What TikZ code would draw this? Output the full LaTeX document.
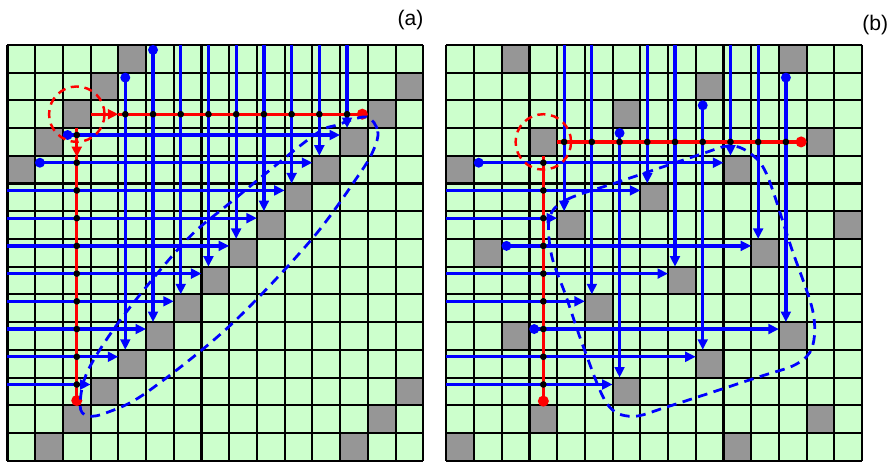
\documentclass[tikz,border=0pt]{standalone}
\usepackage{fontspec}
\setmainfont{Liberation Sans}
\usepackage{tikz}
\usetikzlibrary{arrows.meta}
\definecolor{cellgreen}{RGB}{204,255,204}
\definecolor{cellgrey}{RGB}{150,150,150}

\begin{document}
\begin{tikzpicture}[x=0.6cm, y=0.6cm,
    gridline/.style={line width=1.3pt, black},
    blueline/.style={line width=2pt, blue},
    redline/.style={line width=2pt, red},
    flow/.style={-{Triangle[length=6.5pt,width=6pt]}},
    bluedash/.style={blue, line width=1.7pt, dash pattern=on 6pt off 4pt},
    reddash/.style={red, line width=1.5pt, dash pattern=on 5pt off 3.5pt},
    panel/.style={font=\fontsize{13}{15}\selectfont}]
    \useasboundingbox (-0.27,1.62) rectangle (31.98,-15.06);

    % Panel (a): board
    \fill[cellgreen] (0,0) rectangle (15,-15);
    \foreach \c/\r in {4/0,3/1,2/2,1/3,0/4,14/1,13/2,12/3,11/4,10/5,9/6,8/7,7/8,6/9,5/10,4/11,3/12,2/13,1/14,14/12,13/13,12/14}
        \fill[cellgrey] (\c,-\r) rectangle ++(1,-1);
    \foreach \i in {0,...,15} {
        \draw[gridline] (\i,0) -- (\i,-15);
        \draw[gridline] (0,-\i) -- (15,-\i);
    }

    % Panel (a): blue signals
    \foreach \c/\ya/\yb in {4/-1.18/-11,5/-0.18/-10,6/0/-9,7/0/-8,8/0/-7,9/0/-6,10/0/-5,11/0/-4,12/0/-3}
        \draw[blueline, flow] (\c+0.25,\ya) -- (\c+0.25,\yb);
    \foreach \r/\xa/\xb in {3/2.17/12,4/1.17/11,5/0/10,6/0/9,7/0/8,8/0/7,9/0/6,10/0/5,11/0/4,12/0/3}
        \draw[blueline, flow] (\xa,-\r-0.25) -- (\xb,-\r-0.25);
    \fill[blue] (4.25,-1.18) circle (0.18) (5.25,-0.18) circle (0.18)
        (2.17,-3.25) circle (0.18) (1.17,-4.25) circle (0.18);

    % Panel (a): red bus
    \draw[redline, flow] (3,-2.5) -- (4,-2.5);
    \draw[redline] (4,-2.5) -- (12.8,-2.5);
    \draw[redline, flow] (2.5,-3) -- (2.5,-4.05);
    \draw[redline] (2.5,-4) -- (2.5,-12.83);
    \foreach \c in {4,...,12}
        \fill[black] (\c+0.25,-2.5) circle (0.12);
    \foreach \r in {3,...,12}
        \fill[black] (2.5,-\r-0.25) circle (0.12);
    \fill[red] (12.8,-2.5) circle (0.2) (2.5,-12.83) circle (0.2);
    \draw[reddash] (2.5,-2.5) circle (1);

    % Panel (a): region
    \draw[bluedash] plot[smooth cycle, tension=0.55] coordinates {
        (12.95,-2.6) (13.36,-3.12) (13.2,-3.8) (12.7,-4.65) (10.96,-7.03)
        (8.0,-10.15) (5.0,-12.55) (3.57,-13.27) (2.88,-13.38) (2.62,-13.0)
        (2.9,-11.75) (4.17,-9.79) (6.4,-7.1) (8.0,-5.72) (11.0,-3.3) (11.92,-2.88)};

    \node[panel] (labela) at (14.54,0.9) {(a)};

    \begin{scope}[shift={(15.83,0)}]
    % Panel (b): board
    \fill[cellgreen] (0,0) rectangle (15,-15);
    \foreach \c/\r in {2/0,12/0,9/1,6/2,3/3,13/3,0/4,10/4,7/5,4/6,14/6,1/7,11/7,8/8,5/9,2/10,12/10,9/11,6/12,3/13,13/13,0/14,10/14}
        \fill[cellgrey] (\c,-\r) rectangle ++(1,-1);
    \foreach \i in {0,...,15} {
        \draw[gridline] (\i,0) -- (\i,-15);
        \draw[gridline] (0,-\i) -- (15,-\i);
    }

    % Panel (b): blue signals
    \foreach \c/\ya/\yb in {4/0/-6,5/0/-9,6/-3.18/-12,7/0/-5,8/0/-8,9/-2.18/-11,10/0/-4,11/0/-7,12/-1.18/-10}
        \draw[blueline, flow] (\c+0.25,\ya) -- (\c+0.25,\yb);
    \foreach \r/\xa/\xb in {4/1.17/10,5/0/7,6/0/4,7/2.17/11,8/0/8,9/0/5,10/3.17/12,11/0/9,12/0/6}
        \draw[blueline, flow] (\xa,-\r-0.25) -- (\xb,-\r-0.25);
    \fill[blue] (6.25,-3.18) circle (0.18) (9.25,-2.18) circle (0.18)
        (12.25,-1.18) circle (0.18) (1.17,-4.25) circle (0.18)
        (2.17,-7.25) circle (0.18) (3.17,-10.25) circle (0.18);

    % Panel (b): red bus
    \draw[redline] (4,-3.5) -- (12.8,-3.5);
    \draw[redline] (3.5,-4) -- (3.5,-12.85);
    \foreach \c in {4,...,12}
        \fill[black] (\c+0.25,-3.5) circle (0.12);
    \foreach \r in {4,...,12}
        \fill[black] (3.5,-\r-0.25) circle (0.12);
    \fill[red] (12.8,-3.5) circle (0.2) (3.5,-12.85) circle (0.2);
    \draw[reddash] (3.5,-3.5) circle (1);

    % Panel (b): region
    \draw[bluedash] plot[smooth cycle, tension=0.55] coordinates {
        (3.72,-6.25) (4.35,-5.58) (6.25,-4.93) (9.13,-3.96) (10.2,-3.64)
        (10.9,-3.87) (11.55,-4.65) (12.43,-7.27) (13.22,-9.6) (13.2,-10.9)
        (12.6,-11.53) (11.17,-12.01) (8.05,-13.03) (6.7,-13.4) (5.8,-12.95)
        (4.98,-10.99) (4.32,-9.07) (3.8,-7.6)};

    \node[panel] (labelb) at (15.47,0.72) {(b)};
    \end{scope}
\end{tikzpicture}
\end{document}
